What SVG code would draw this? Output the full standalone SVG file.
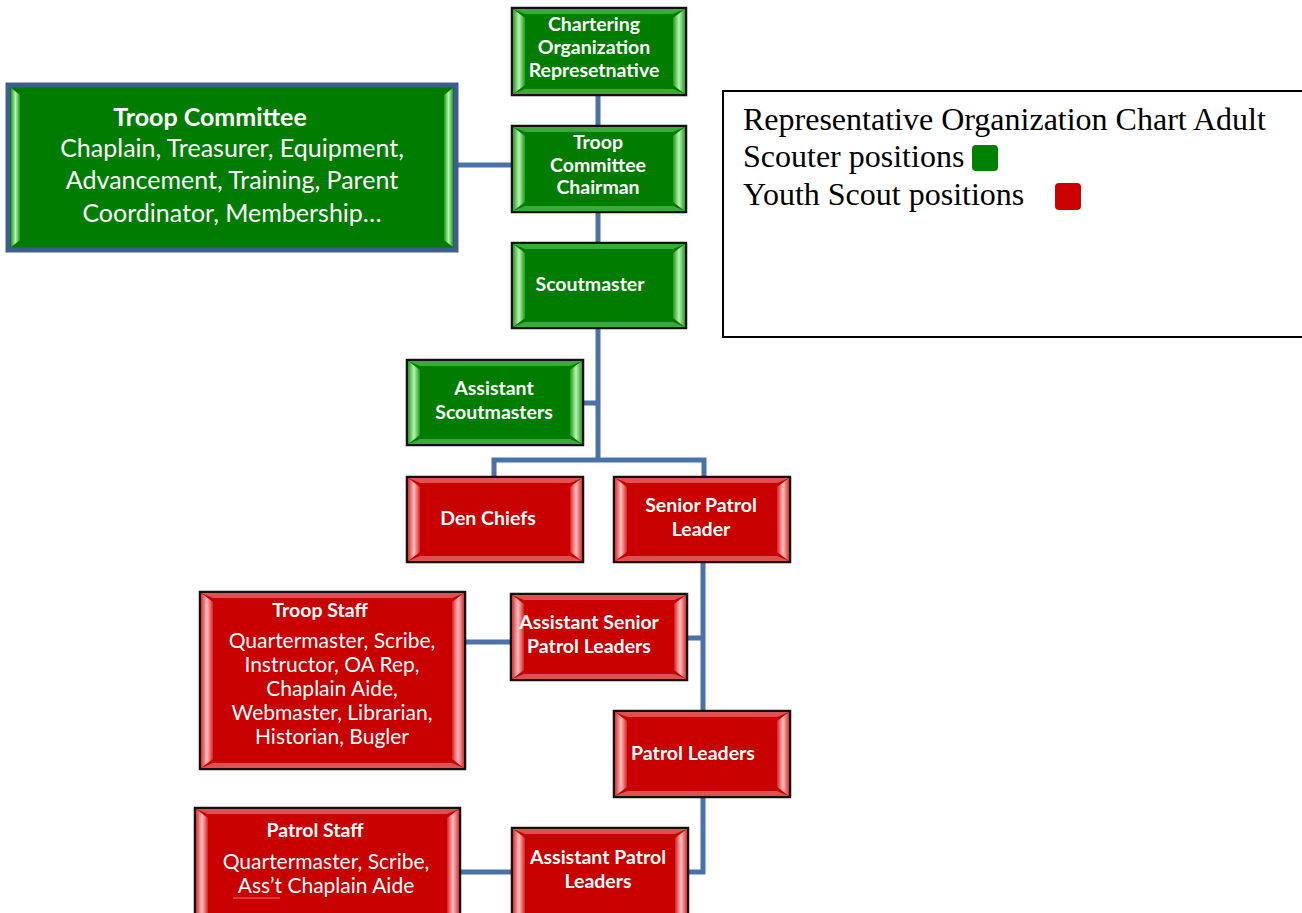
<svg xmlns="http://www.w3.org/2000/svg" width="1302" height="913" viewBox="0 0 1302 913">
<defs>
<linearGradient id="gl" x1="0" y1="0" x2="1" y2="0"><stop offset="0" stop-color="#2a9a2a"/><stop offset="0.5" stop-color="#b8f5b0"/><stop offset="1" stop-color="#1a9a1a"/></linearGradient>
<linearGradient id="gr" x1="1" y1="0" x2="0" y2="0"><stop offset="0" stop-color="#2a9a2a"/><stop offset="0.5" stop-color="#b8f5b0"/><stop offset="1" stop-color="#1a9a1a"/></linearGradient>
<linearGradient id="rl" x1="0" y1="0" x2="1" y2="0"><stop offset="0" stop-color="#d83030"/><stop offset="0.5" stop-color="#ffc0c0"/><stop offset="1" stop-color="#d82020"/></linearGradient>
<linearGradient id="rr" x1="1" y1="0" x2="0" y2="0"><stop offset="0" stop-color="#d83030"/><stop offset="0.5" stop-color="#ffc0c0"/><stop offset="1" stop-color="#d82020"/></linearGradient>
</defs>
<style>
.frame{stroke:#111;stroke-width:2.5}
.g{fill:#007d00}
.r{fill:#c80000}
.gtb{fill:#3aab3a}
.rtb{fill:#e05050}
.t{font-family:Lato,"Liberation Sans",sans-serif;font-weight:bold;font-size:19.5px;fill:#fff;text-anchor:middle}
.n{font-family:Lato,"Liberation Sans",sans-serif;font-size:21px;fill:#fff;text-anchor:middle}
.big{font-size:25px}
.leg{font-family:"Liberation Serif",serif;font-size:32px;fill:#000}
.c{stroke:#4a72a8;stroke-width:5;fill:none}
</style>
<rect width="1302" height="913" fill="#fff"/>

<g id="connectors">
<path class="c" d="M598 95V126M598 212V243M598 328V460M456 165H512M583 403H598M494 477V460H704V477M703 562V711M687 638H703M464 642H511M703 797V872H688M460 872H512"/>
</g>

<g id="chartering">
<rect class="g frame" x="512" y="8" width="174" height="87"/>
<polygon class="gtb" points="513,9 685,9 673,14 525,14"/>
<polygon class="gtb" points="513,94 685,94 673,89 525,89"/>
<polygon fill="url(#gl)" points="513,9 525,18 525,85 513,94"/>
<polygon fill="url(#gr)" points="685,9 673,18 673,85 685,94"/>
<text class="t" x="594" y="31">Chartering</text>
<text class="t" x="594" y="54">Organization</text>
<text class="t" x="594" y="77">Represetnative</text>
</g>

<g id="troop-committee-chairman">
<rect class="g frame" x="512" y="126" width="174" height="86"/>
<polygon class="gtb" points="513,127 685,127 673,132 525,132"/>
<polygon class="gtb" points="513,211 685,211 673,206 525,206"/>
<polygon fill="url(#gl)" points="513,127 525,136 525,202 513,211"/>
<polygon fill="url(#gr)" points="685,127 673,136 673,202 685,211"/>
<text class="t" x="598" y="149">Troop</text>
<text class="t" x="598" y="172">Committee</text>
<text class="t" x="598" y="194">Chairman</text>
</g>

<g id="troop-committee">
<rect class="g" x="8" y="85" width="448" height="165" stroke="#3c5e8e" stroke-width="5"/>
<polygon fill="url(#gl)" points="11,88 20,95 20,240 11,247"/>
<polygon fill="url(#gr)" points="453,88 444,95 444,240 453,247"/>
<text class="t big" x="210" y="126">Troop Committee</text>
<text class="n big" x="232" y="157">Chaplain, Treasurer, Equipment,</text>
<text class="n big" x="232" y="189">Advancement, Training, Parent</text>
<text class="n big" x="232" y="222">Coordinator, Membership…</text>
</g>

<g id="scoutmaster">
<rect class="g frame" x="512" y="243" width="174" height="85"/>
<polygon class="gtb" points="513,244 685,244 673,249 525,249"/>
<polygon class="gtb" points="513,327 685,327 673,322 525,322"/>
<polygon fill="url(#gl)" points="513,244 525,253 525,318 513,327"/>
<polygon fill="url(#gr)" points="685,244 673,253 673,318 685,327"/>
<text class="t" x="590" y="291">Scoutmaster</text>
</g>

<g id="assistant-scoutmasters">
<rect class="g frame" x="407" y="360" width="176" height="85"/>
<polygon class="gtb" points="408,361 582,361 570,366 420,366"/>
<polygon class="gtb" points="408,444 582,444 570,439 420,439"/>
<polygon fill="url(#gl)" points="408,361 420,370 420,435 408,444"/>
<polygon fill="url(#gr)" points="582,361 570,370 570,435 582,444"/>
<text class="t" x="494" y="395">Assistant</text>
<text class="t" x="494" y="419">Scoutmasters</text>
</g>

<g id="den-chiefs">
<rect class="r frame" x="407" y="477" width="176" height="85"/>
<polygon class="rtb" points="408,478 582,478 570,483 420,483"/>
<polygon class="rtb" points="408,561 582,561 570,556 420,556"/>
<polygon fill="url(#rl)" points="408,478 420,487 420,552 408,561"/>
<polygon fill="url(#rr)" points="582,478 570,487 570,552 582,561"/>
<text class="t" x="488" y="525">Den Chiefs</text>
</g>

<g id="senior-patrol-leader">
<rect class="r frame" x="614" y="477" width="176" height="85"/>
<polygon class="rtb" points="615,478 789,478 777,483 627,483"/>
<polygon class="rtb" points="615,561 789,561 777,556 627,556"/>
<polygon fill="url(#rl)" points="615,478 627,487 627,552 615,561"/>
<polygon fill="url(#rr)" points="789,478 777,487 777,552 789,561"/>
<text class="t" x="701" y="512">Senior Patrol</text>
<text class="t" x="701" y="536">Leader</text>
</g>

<g id="troop-staff">
<rect class="r frame" x="200" y="592" width="265" height="177"/>
<polygon class="rtb" points="201,593 464,593 452,598 213,598"/>
<polygon class="rtb" points="201,768 464,768 452,763 213,763"/>
<polygon fill="url(#rl)" points="201,593 213,602 213,759 201,768"/>
<polygon fill="url(#rr)" points="464,593 452,602 452,759 464,768"/>
<text class="t" x="320" y="617">Troop Staff</text>
<text class="n" x="332" y="648">Quartermaster, Scribe,</text>
<text class="n" x="332" y="672">Instructor, OA Rep,</text>
<text class="n" x="332" y="696">Chaplain Aide,</text>
<text class="n" x="332" y="720">Webmaster, Librarian,</text>
<text class="n" x="332" y="744">Historian, Bugler</text>
</g>

<g id="assistant-senior-patrol-leaders">
<rect class="r frame" x="511" y="594" width="176" height="86"/>
<polygon class="rtb" points="512,595 686,595 674,600 524,600"/>
<polygon class="rtb" points="512,679 686,679 674,674 524,674"/>
<polygon fill="url(#rl)" points="512,595 524,604 524,670 512,679"/>
<polygon fill="url(#rr)" points="686,595 674,604 674,670 686,679"/>
<text class="t" x="589" y="629">Assistant Senior</text>
<text class="t" x="589" y="653">Patrol Leaders</text>
</g>

<g id="patrol-leaders">
<rect class="r frame" x="614" y="711" width="176" height="86"/>
<polygon class="rtb" points="615,712 789,712 777,717 627,717"/>
<polygon class="rtb" points="615,796 789,796 777,791 627,791"/>
<polygon fill="url(#rl)" points="615,712 627,721 627,787 615,796"/>
<polygon fill="url(#rr)" points="789,712 777,721 777,787 789,796"/>
<text class="t" x="693" y="760">Patrol Leaders</text>
</g>

<g id="patrol-staff">
<rect class="r frame" x="195" y="808" width="265" height="115"/>
<polygon class="rtb" points="196,809 459,809 447,814 208,814"/>
<polygon fill="url(#rl)" points="196,809 208,818 208,913 196,913"/>
<polygon fill="url(#rr)" points="459,809 447,818 447,913 459,913"/>
<text class="t" x="315" y="837">Patrol Staff</text>
<text class="n" x="326" y="869">Quartermaster, Scribe,</text>
<text class="n" x="326" y="893">Ass’t Chaplain Aide</text>
<line x1="233" y1="898" x2="280" y2="898" stroke="#e87070" stroke-width="1"/>
</g>

<g id="assistant-patrol-leaders">
<rect class="r frame" x="512" y="828" width="176" height="95"/>
<polygon class="rtb" points="513,829 687,829 675,834 525,834"/>
<polygon fill="url(#rl)" points="513,829 525,838 525,913 513,913"/>
<polygon fill="url(#rr)" points="687,829 675,838 675,913 687,913"/>
<text class="t" x="598" y="864">Assistant Patrol</text>
<text class="t" x="598" y="888">Leaders</text>
</g>

<g id="legend">
<rect x="723" y="91" width="590" height="246" fill="#fff" stroke="#000" stroke-width="2"/>
<text class="leg" x="743" y="130">Representative Organization Chart Adult</text>
<text class="leg" x="743" y="167">Scouter positions</text>
<rect x="972" y="145" width="26" height="26" rx="4" fill="#008000"/>
<text class="leg" x="743" y="205">Youth Scout positions</text>
<rect x="1055" y="183" width="26" height="27" rx="4" fill="#cc0000"/>
</g>
</svg>
